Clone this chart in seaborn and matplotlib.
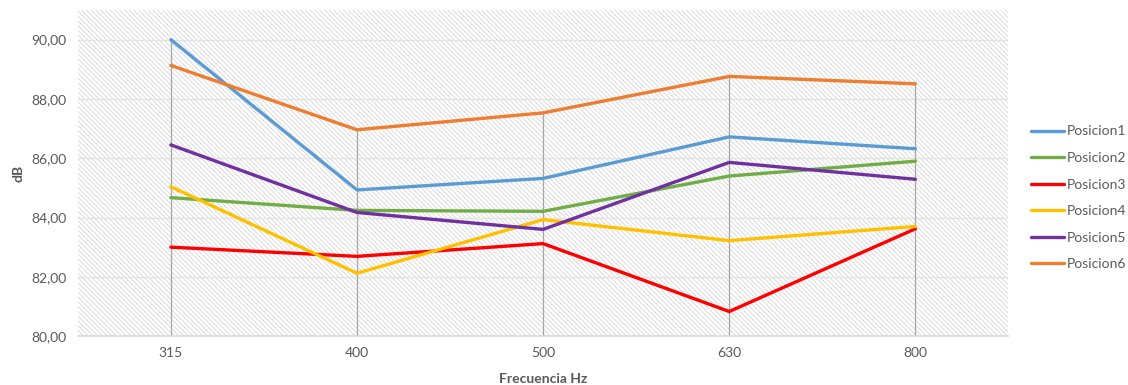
import matplotlib
matplotlib.use("Agg")
import matplotlib.pyplot as plt
from matplotlib.ticker import FuncFormatter, FixedLocator
import seaborn as sns
import pandas as pd

# Sound level per measurement position across frequency bands
frecuencias = ["315", "400", "500", "630", "800"]
posicion1 = [90.00, 84.93, 85.32, 86.72, 86.32]
posicion2 = [84.67, 84.24, 84.21, 85.40, 85.90]
posicion3 = [83.00, 82.69, 83.12, 80.83, 83.62]
posicion4 = [85.04, 82.12, 83.93, 83.22, 83.70]
posicion5 = [86.45, 84.17, 83.60, 85.86, 85.29]
posicion6 = [89.13, 86.96, 87.53, 88.76, 88.51]

series = {
    "Posicion1": posicion1,
    "Posicion2": posicion2,
    "Posicion3": posicion3,
    "Posicion4": posicion4,
    "Posicion5": posicion5,
    "Posicion6": posicion6,
}
colores = ["#5B9BD5", "#70AD47", "#FF0000", "#FFC000", "#7030A0", "#ED7D31"]

rows = []
for nombre, valores in series.items():
    for f, v in zip(frecuencias, valores):
        rows.append({"Frecuencia": f, "dB": v, "Serie": nombre})
df = pd.DataFrame(rows)

sns.set_theme(style="white")
plt.rcParams["font.family"] = ["Lato", "DejaVu Sans"]
plt.rcParams["hatch.color"] = "#d6d6d6"
plt.rcParams["hatch.linewidth"] = 0.6

fig = plt.figure(figsize=(11.28, 3.85), dpi=100)
ax = fig.add_axes([0.069, 0.127, 0.825, 0.847])

# Hatched plot area background
ax.patch.set_facecolor("white")
ax.patch.set_hatch("\\\\\\\\\\\\\\")
ax.patch.set_edgecolor("#d6d6d6")

ymin, ymax = 80, 91

# Horizontal gridlines
for yv in range(80, 92, 2):
    ax.axhline(yv, color="#e3e3e3", lw=1.0, zorder=1)

# Drop lines from each category's highest value down to the axis
maximos = df.groupby("Frecuencia", sort=False)["dB"].max()
for i, f in enumerate(frecuencias):
    ax.vlines(i, ymin, maximos[f], color="#a6a6a6", lw=0.9, zorder=2)

sns.lineplot(data=df, x="Frecuencia", y="dB", hue="Serie", palette=colores,
             lw=2.4, ax=ax, legend=True, zorder=3, sort=False)

ax.set_xlim(-0.5, len(frecuencias) - 0.5)
ax.set_ylim(ymin, ymax)
ax.yaxis.set_major_locator(FixedLocator(list(range(80, 92, 2))))
ax.yaxis.set_major_formatter(FuncFormatter(lambda v, p: f"{v:.2f}".replace(".", ",")))
ax.set_xticks(range(len(frecuencias)))
ax.set_xticklabels(frecuencias)

ax.tick_params(axis="both", length=0, labelsize=10, colors="#595959", pad=8)
for s in ["top", "right", "left"]:
    ax.spines[s].set_visible(False)
ax.spines["bottom"].set_color("#d9d9d9")
ax.spines["bottom"].set_linewidth(1.2)

ax.set_xlabel("Frecuencia Hz", fontsize=10, fontweight="bold", color="#595959", labelpad=10)
ax.set_ylabel("dB", fontsize=10, fontweight="bold", color="#595959", labelpad=5)

handles, labels = ax.get_legend_handles_labels()
ax.get_legend().remove()
leg = fig.legend(handles, labels, loc="center left", bbox_to_anchor=(0.914, 0.486),
                 frameon=False, fontsize=10, handlelength=2.35, handletextpad=0.2,
                 labelspacing=1.05, labelcolor="#595959", borderpad=0,
                 borderaxespad=0)

fig.savefig("out.png", dpi=100)
